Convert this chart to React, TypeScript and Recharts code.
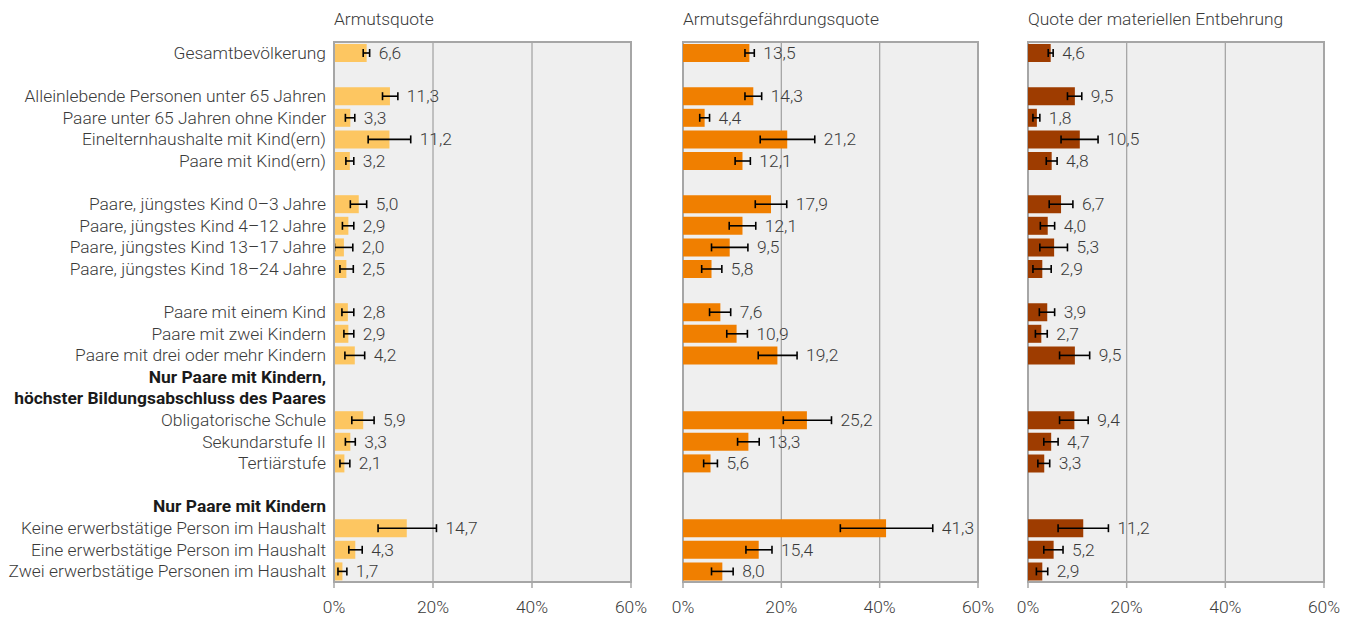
import React from 'react';
import { BarChart, Bar, XAxis, YAxis, CartesianGrid, ErrorBar, ReferenceArea, LabelList } from 'recharts';

// rows of the chart, '' = empty spacer row
const categories = [
  'Gesamtbevölkerung', '',
  'Alleinlebende Personen unter 65 Jahren', 'Paare unter 65 Jahren ohne Kinder',
  'Einelternhaushalte mit Kind(ern)', 'Paare mit Kind(ern)', '',
  'Paare, jüngstes Kind 0–3 Jahre', 'Paare, jüngstes Kind 4–12 Jahre',
  'Paare, jüngstes Kind 13–17 Jahre', 'Paare, jüngstes Kind 18–24 Jahre', '',
  'Paare mit einem Kind', 'Paare mit zwei Kindern', 'Paare mit drei oder mehr Kindern',
  'Nur Paare mit Kindern,', 'höchster Bildungsabschluss des Paares',
  'Obligatorische Schule', 'Sekundarstufe II', 'Tertiärstufe', '',
  'Nur Paare mit Kindern',
  'Keine erwerbstätige Person im Haushalt', 'Eine erwerbstätige Person im Haushalt',
  'Zwei erwerbstätige Personen im Haushalt',
];
const headerRows = [15, 16, 21];

const armut = [6.6, null, 11.3, 3.3, 11.2, 3.2, null, 5.0, 2.9, 2.0, 2.5, null, 2.8, 2.9, 4.2, null, null, 5.9, 3.3, 2.1, null, null, 14.7, 4.3, 1.7];
const armutLow = [5.9, null, 9.8, 2.3, 6.9, 2.4, null, 3.3, 1.7, 0.1, 1.2, null, 1.6, 2.0, 2.2, null, null, 3.6, 2.3, 1.2, null, null, 8.9, 3.0, 0.8];
const armutHigh = [7.2, null, 12.9, 4.2, 15.5, 4.0, null, 6.6, 4.0, 3.8, 3.9, null, 4.0, 4.0, 6.2, null, null, 8.1, 4.3, 3.2, null, null, 20.7, 5.7, 2.6];

const gefaehrdung = [13.5, null, 14.3, 4.4, 21.2, 12.1, null, 17.9, 12.1, 9.5, 5.8, null, 7.6, 10.9, 19.2, null, null, 25.2, 13.3, 5.6, null, null, 41.3, 15.4, 8.0];
const gefaehrdungLow = [12.6, null, 12.6, 3.4, 15.7, 10.6, null, 14.7, 9.4, 5.8, 3.8, null, 5.4, 8.9, 15.3, null, null, 20.4, 11.1, 4.2, null, null, 32.0, 12.8, 5.8];
const gefaehrdungHigh = [14.5, null, 16.0, 5.4, 26.8, 13.7, null, 21.1, 14.8, 13.2, 7.9, null, 9.7, 13.1, 23.2, null, null, 30.2, 15.5, 7.0, null, null, 50.8, 18.1, 10.2];

const entbehrung = [4.6, null, 9.5, 1.8, 10.5, 4.8, null, 6.7, 4.0, 5.3, 2.9, null, 3.9, 2.7, 9.5, null, null, 9.4, 4.7, 3.3, null, null, 11.2, 5.2, 2.9];
const entbehrungLow = [4.1, null, 8.0, 1.0, 6.7, 3.7, null, 4.3, 2.5, 2.4, 1.0, null, 2.3, 1.5, 6.4, null, null, 6.4, 3.2, 2.0, null, null, 6.1, 3.2, 1.7];
const entbehrungHigh = [5.1, null, 10.9, 2.4, 14.2, 5.9, null, 9.1, 5.4, 8.0, 4.7, null, 5.4, 3.9, 12.5, null, null, 12.2, 6.1, 4.4, null, null, 16.3, 7.1, 4.0];

const xTicks = [0, 20, 40, 60];

const FONT = 'Roboto, "Noto Sans", sans-serif';
const FS = 17.4;
const FW = 300;
const TEXT = '#3a3a3a';
const GRID = '#a6a6a6';
const H = 619;

const fmt = (v: number) => v.toFixed(1).replace('.', ',');

interface PanelProps {
  title: string;
  values: (number | null)[];
  low: (number | null)[];
  high: (number | null)[];
  color: string;
  left: number;
  width: number;
  margin: { top: number; right: number; bottom: number; left: number };
  showCategories?: boolean;
  yWidth?: number;
}

const CategoryTick = (props: any) => {
  const { x, y, payload } = props;
  const i = parseInt(String(payload.value).slice(1), 10);
  const label = categories[i] ?? '';
  const bold = headerRows.includes(i);
  return (
    <text x={x} y={y} dy="0.35em" textAnchor="end" fontFamily={FONT} fontSize={FS}
      fontWeight={bold ? 700 : FW} fill={bold ? '#1a1a1a' : TEXT}>
      {label}
    </text>
  );
};

const Panel: React.FC<PanelProps> = ({ title, values, low, high, color, left, width, margin, showCategories, yWidth }) => {
  const data = categories.map((_, i) => {
    const v = values[i];
    return {
      key: `r${i}`,
      value: v,
      err: v == null ? null : [v - (low[i] as number), (high[i] as number) - v],
      hi: high[i],
    };
  });

  const renderLabel = (p: any) => {
    const x = p.x ?? p.viewBox?.x;
    const y = p.y ?? p.viewBox?.y;
    const w = p.width ?? p.viewBox?.width;
    const h = p.height ?? p.viewBox?.height;
    const i = parseInt(String(p.value).slice(1), 10);
    const d = data[i];
    if (!d || d.value == null) return null;
    const px = x + (w * (d.hi as number)) / (d.value as number) + 9;
    return (
      <text key={`l${i}`} x={px} y={y + h / 2} dy="0.35em" fontFamily={FONT} fontSize={FS} fontWeight={FW} fill={TEXT}>
        {fmt(d.value as number)}
      </text>
    );
  };

  return (
    <div style={{ position: 'absolute', left, top: 0, width, height: H }}>
      <div style={{ position: 'absolute', left: margin.left + (yWidth ?? 0), top: 8, fontFamily: FONT, fontSize: FS, fontWeight: FW, color: TEXT, whiteSpace: 'nowrap', lineHeight: '22px' }}>
        {title}
      </div>
      <BarChart width={width} height={H} data={data} layout="vertical" margin={margin} barSize={18}>
        <CartesianGrid horizontal={false} vertical verticalValues={xTicks} stroke={GRID} strokeWidth={1.3} fill="#efefef" />
        <ReferenceArea x1={0} x2={60} fill="none" stroke={GRID} strokeWidth={2} ifOverflow="visible" />
        <XAxis type="number" domain={[0, 60]} ticks={xTicks} tickFormatter={(v: number) => `${v}%`}
          axisLine={{ stroke: GRID, strokeWidth: 2 }} tickLine={{ stroke: GRID, strokeWidth: 1.5 }} tickSize={6}
          tick={{ fontFamily: FONT, fontSize: FS, fontWeight: FW, fill: TEXT }} tickMargin={13} height={33} interval={0} />
        <YAxis type="category" dataKey="key" hide={!showCategories} width={yWidth ?? 0}
          axisLine={{ stroke: GRID, strokeWidth: 2 }} tickLine={false} interval={0} tick={<CategoryTick />} />
        <Bar dataKey="value" fill={color} isAnimationActive={false}>
          <ErrorBar dataKey="err" direction="x" width={4} stroke="#000" strokeWidth={1.6} isAnimationActive={false} />
          <LabelList dataKey="key" content={renderLabel} />
        </Bar>
      </BarChart>
    </div>
  );
};

export default function App() {
  return (
    <div style={{ position: 'absolute', left: 0, top: 0, width: 1351, height: H, background: '#fff' }}>
      <Panel title="Armutsquote" values={armut} low={armutLow} high={armutHigh} color="#fdc661"
        left={0} width={660} margin={{ top: 42, right: 29, bottom: 4, left: 0 }} showCategories yWidth={334} />
      <Panel title="Armutsgefährdungsquote" values={gefaehrdung} low={gefaehrdungLow} high={gefaehrdungHigh} color="#f07f00"
        left={660} width={340} margin={{ top: 42, right: 22, bottom: 4, left: 23 }} />
      <Panel title="Quote der materiellen Entbehrung" values={entbehrung} low={entbehrungLow} high={entbehrungHigh} color="#9e3c00"
        left={1000} width={351} margin={{ top: 42, right: 27, bottom: 4, left: 28 }} />
    </div>
  );
}
